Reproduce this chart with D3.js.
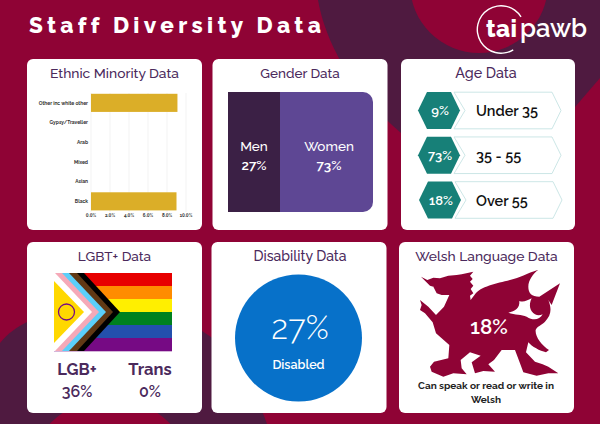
<!DOCTYPE html>
<html>
<head>
<meta charset="utf-8">
<script src="https://cdnjs.cloudflare.com/ajax/libs/d3/7.8.5/d3.min.js"></script>
<style>
  html, body { margin: 0; padding: 0; background: #8f0335; }
  svg { display: block; }
  text { font-family: 'Raleway', Lato, 'Open Sans', sans-serif; }
</style>
</head>
<body>
<div id="chart"></div>
<script>
var ethnicCategories = ["Other inc white other", "Gypsy/Traveller", "Arab", "Mixed", "Asian", "Black"];
var ethnicValues = [9.1, 0, 0, 0, 0, 9.0];
var ethnicTicks = [0, 2, 4, 6, 8, 10];
var genderLabels = ["Men", "Women"];
var genderValues = [27, 73];
var ageLabels = ["Under 35", "35 - 55", "Over 55"];
var ageValues = [9, 73, 18];
var lgbtLabels = ["LGB+", "Trans"];
var lgbtValues = [36, 0];
var disabledValue = 27;
var welshValue = 18;

var purple = "#4b2a5c", crimson = "#8f0335", dark = "#4f1a40";

var svg = d3.select("#chart").append("svg").attr("width", 600).attr("height", 424);

// background
svg.append("rect").attr("width", 600).attr("height", 424).attr("fill", crimson);
svg.append("path").attr("fill", dark).attr("d", "M318,0C325,40 350,90 401,133L480,170L575,107L600,78V0Z");
svg.append("circle").attr("cx", 479).attr("cy", -16).attr("r", 69).attr("fill", crimson);
svg.append("path").attr("fill", dark).attr("d", "M0,343C8,333 17,327 27,322L120,300C150,305 180,315 211,337C235,355 255,390 267,424H0Z");
svg.append("circle").attr("cx", 110).attr("cy", 481).attr("r", 83).attr("fill", crimson);

svg.append("text").attr("x", 29).attr("y", 33).attr("fill", "#fff")
  .attr("font-size", 22.5).attr("font-weight", 800).attr("letter-spacing", 4.35)
  .text("Staff Diversity Data");

// logo
var logo = svg.append("g");
logo.append("path").attr("d", d3.arc()({innerRadius: 23, outerRadius: 24.4, startAngle: 2.6, endAngle: 7.29}))
  .attr("transform", "translate(501,29.5)").attr("fill", "#fff");
logo.append("text").attr("x", 486).attr("y", 37).attr("fill", "#fff").attr("font-size", 24).attr("font-weight", 800).attr("letter-spacing", 0.4).text("tai");
logo.append("text").attr("x", 520).attr("y", 37).attr("fill", "#fff").attr("font-size", 25.5).attr("font-weight", 600).text("pawb");

// cards
var cards = [
  {x: 27, y: 59, w: 175, h: 171, title: "Ethnic Minority Data", fs: 13.8, dx: 0},
  {x: 212.5, y: 59, w: 175, h: 171, title: "Gender Data", fs: 13.5, dx: 0},
  {x: 401, y: 59, w: 174, h: 171, title: "Age Data", fs: 14.3, dx: -2},
  {x: 27, y: 242, w: 175, h: 171, title: "LGBT+ Data", fs: 13.6, dx: 0},
  {x: 211.5, y: 242, w: 175, h: 171, title: "Disability Data", fs: 14, dx: 1},
  {x: 399, y: 242, w: 175, h: 171, title: "Welsh Language Data", fs: 13.8, dx: 0}
];
cards.forEach(function(c) {
  svg.append("rect").attr("x", c.x).attr("y", c.y).attr("width", c.w).attr("height", c.h).attr("rx", 6).attr("fill", "#fff");
  svg.append("text").attr("x", c.x + c.w / 2 + c.dx).attr("y", c.y + 19).attr("text-anchor", "middle")
    .attr("fill", purple).attr("font-size", c.fs).attr("font-weight", 500).text(c.title);
});

// ethnic bars
var x = d3.scaleLinear().domain([0, 10]).range([91, 186]);
var y = d3.scaleBand().domain(ethnicCategories).range([93.2, 211]).paddingInner(0.08).paddingOuter(0.03);
var barG = svg.append("g");
barG.selectAll("line.grid").data(ethnicTicks).enter().append("line")
  .attr("x1", function(d) { return x(d); }).attr("x2", function(d) { return x(d); })
  .attr("y1", 93).attr("y2", 212).attr("stroke", "#eeeeee").attr("stroke-width", 0.7);
barG.selectAll("rect").data(ethnicValues).enter().append("rect")
  .attr("x", x(0)).attr("y", function(d, i) { return y(ethnicCategories[i]); })
  .attr("width", function(d) { return x(d) - x(0); }).attr("height", y.bandwidth())
  .attr("fill", "#dbae28");
barG.selectAll("text.cat").data(ethnicCategories).enter().append("text")
  .attr("x", 88).attr("y", function(d) { return y(d) + y.bandwidth() / 2 + 1.7; })
  .attr("text-anchor", "end").attr("font-size", 4.9).attr("font-weight", 700).attr("fill", "#333").text(function(d) { return d; });
barG.selectAll("text.tick").data(ethnicTicks).enter().append("text")
  .attr("x", function(d) { return x(d); }).attr("y", 217).attr("text-anchor", "middle")
  .attr("font-size", 4.6).attr("font-weight", 700).attr("fill", "#333").text(function(d) { return d.toFixed(1) + "%"; });

// gender - the split in the picture is not to scale, hence the three stops
var gx = d3.scaleLinear().domain([0, genderValues[0], 100]).range([228, 280, 373]);
var gTop = 92, gBot = 212;
svg.append("path").attr("fill", "#5e4794")
  .attr("d", "M" + gx(genderValues[0]) + "," + gTop + "H363a10,10 0 0 1 10,10V" + (gBot - 10) + "a10,10 0 0 1 -10,10H" + gx(genderValues[0]) + "Z");
svg.append("rect").attr("x", gx(0)).attr("y", gTop).attr("width", gx(genderValues[0]) - gx(0)).attr("height", gBot - gTop).attr("fill", "#3b2045");
genderLabels.forEach(function(l, i) {
  var cx = i == 0 ? 254 : 329;
  svg.append("text").attr("x", cx).attr("y", 151).attr("text-anchor", "middle").attr("fill", "#fff").attr("font-size", 13.5).attr("font-weight", 500).text(l);
  svg.append("text").attr("x", cx).attr("y", 170).attr("text-anchor", "middle").attr("fill", "#fff").attr("font-size", 13.5).attr("font-weight", 600).text(genderValues[i] + "%");
});

// age
var ageY = d3.scalePoint().domain(ageLabels).range([110.5, 200]);
ageLabels.forEach(function(l, i) {
  var cy = ageY(l);
  var off = i == 2 ? 1 : 0;
  svg.append("path").attr("fill", "#fff").attr("stroke", "#bfe0e0").attr("stroke-width", 0.8)
    .attr("d", "M" + (454 + off) + "," + (cy - 18.3) + "H" + (552 + off) + "L" + (561 + off) + "," + cy + "L" + (552 + off) + "," + (cy + 18.3) + "H" + (454 + off) + "L" + (465 + off) + "," + cy + "Z");
  svg.append("path").attr("fill", "#178078")
    .attr("d", "M" + (418 + off) + "," + cy + "L" + (427 + off) + "," + (cy - 18.5) + "H" + (451 + off) + "L" + (460 + off) + "," + cy + "L" + (451 + off) + "," + (cy + 18.5) + "H" + (427 + off) + "Z");
  svg.append("text").attr("x", 440 + off).attr("y", cy + 4.5).attr("text-anchor", "middle").attr("fill", "#fff").attr("font-size", 13).attr("font-weight", 600).text(ageValues[i] + "%");
  svg.append("text").attr("x", 476).attr("y", cy + 5.5).attr("fill", "#111").attr("font-size", 14.5).attr("font-weight", 600).text(l);
});

// flag
var fx = 54, fy = 273, fw = 118, fh = 78;
var stripes = ["#e70000", "#ff8c00", "#ffef00", "#00811f", "#2350ad", "#760a84"];
var fy2 = d3.scaleBand().domain(d3.range(6)).range([fy, fy + fh]);
svg.selectAll("rect.stripe").data(stripes).enter().append("rect")
  .attr("x", fx).attr("width", fw).attr("y", function(d, i) { return fy2(i); }).attr("height", fy2.bandwidth() + 0.3).attr("fill", function(d) { return d; });
var chev = [["#000", 84, 120], ["#613915", 77, 113], ["#5bcffa", 69, 106], ["#f5a9b8", 62, 99], ["#fff", 55, 92]];
chev.forEach(function(c) {
  svg.append("path").attr("fill", c[0])
    .attr("d", "M" + fx + "," + fy + "H" + c[1] + "L" + c[2] + "," + (fy + fh / 2) + "L" + c[1] + "," + (fy + fh) + "H" + fx + "Z");
});
svg.append("path").attr("fill", "#ffd800").attr("d", "M" + fx + "," + (fy + 8) + "L84," + (fy + fh / 2) + "L" + fx + "," + (fy + fh - 8) + "Z");
svg.append("circle").attr("cx", 66.5).attr("cy", 312).attr("r", 8).attr("fill", "none").attr("stroke", "#760a84").attr("stroke-width", 1.3);
lgbtLabels.forEach(function(l, i) {
  var cx = i == 0 ? 77 : 150;
  svg.append("text").attr("x", cx).attr("y", 375).attr("text-anchor", "middle").attr("fill", purple).attr("font-size", 16.5).attr("font-weight", 700).text(l);
  svg.append("text").attr("x", cx).attr("y", 397).attr("text-anchor", "middle").attr("fill", purple).attr("font-size", 16).attr("font-weight", 600).text(lgbtValues[i] + "%");
});

// disability
svg.append("circle").attr("cx", 298.5).attr("cy", 338).attr("r", 63.5).attr("fill", "#0771c9");
svg.append("text").attr("x", 300).attr("y", 339).attr("text-anchor", "middle").attr("fill", "#fff").attr("font-size", 33).attr("font-weight", 300).text(disabledValue + "%");
svg.append("text").attr("x", 298.5).attr("y", 369).attr("text-anchor", "middle").attr("fill", "#fff").attr("font-size", 12.5).attr("font-weight", 600).text("Disabled");

// dragon, outline traced at 3x
var dragon = svg.append("g").attr("transform", "translate(420,265) scale(0.3333)");
dragon.append("path").attr("fill", crimson)
  .attr("d", "M3,35L22,45L40,38L60,40L85,32L110,30L125,28L160,20L150,32L158,42L150,50L160,62L152,72L160,85L150,92L152,105L165,88C180,65 230,55 270,45C300,38 320,25 355,14C340,25 325,45 325,65C325,85 335,95 358,95L420,55L395,120L385,105C395,130 395,150 375,170C365,180 350,185 347,195C345,215 365,240 387,255L378,262C360,258 335,245 325,232L318,262L345,290L368,298L385,305L415,325L385,325L350,332L310,322L300,295L285,255L245,255L222,285L205,298L225,320L190,318L165,325L155,292L182,272L150,262L122,285L125,310L140,328L100,325L70,335L35,320L30,305L42,290L85,280L88,240L48,205L38,172L15,145L0,135L5,120L0,105L25,125L48,150L72,125L88,90L65,90L50,85L40,65L55,70L30,62Z");
dragon.append("path").attr("fill", "#fff")
  .attr("d", "M265,143C285,138 300,130 298,108C310,112 320,108 335,100C325,120 330,140 345,148C352,152 360,152 368,148C358,165 340,168 320,155C305,148 285,150 265,143Z");
svg.append("text").attr("x", 489).attr("y", 334).attr("text-anchor", "middle").attr("fill", "#fff").attr("font-size", 20.5).attr("font-weight", 600).text(welshValue + "%");
svg.append("text").attr("x", 486).attr("y", 389).attr("text-anchor", "middle").attr("fill", "#222").attr("font-size", 10).attr("font-weight", 700).text("Can speak or read or write in");
svg.append("text").attr("x", 486).attr("y", 403).attr("text-anchor", "middle").attr("fill", "#222").attr("font-size", 10).attr("font-weight", 700).text("Welsh");
</script>
</body>
</html>
